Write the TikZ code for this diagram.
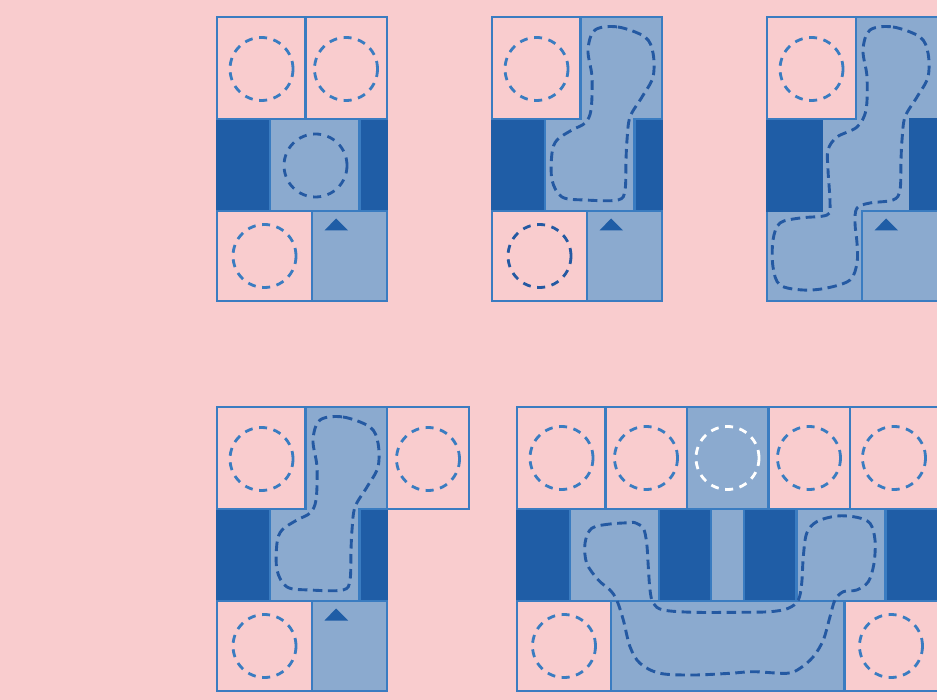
\documentclass[tikz,border=0pt]{standalone}
\definecolor{bgpink}{HTML}{F9CCCE}
\definecolor{lightblue}{HTML}{8BAACF}
\definecolor{darkblue}{HTML}{1F5DA6}
\definecolor{edgeblue}{HTML}{3A7CC1}
\definecolor{ringdarkc}{HTML}{2459A2}
\begin{document}
\begin{tikzpicture}[x=1pt,y=-1pt,
  cellline/.style={draw=edgeblue, line width=2.6pt},
  pinkcell/.style={cellline, fill=bgpink},
  lightcell/.style={cellline, fill=lightblue},
  darkcell/.style={fill=darkblue, draw=darkblue, line width=2.6pt},
  ring/.style={draw=edgeblue, line width=2.8pt, dash pattern=on 8pt off 6.6pt},
  ringdark/.style={ring, draw=ringdarkc},
  ringwhite/.style={ring, draw=white},
  blob/.style={draw=ringdarkc, line width=2.9pt, dash pattern=on 9.5pt off 5.5pt},
  tri/.style={fill=darkblue}]
\useasboundingbox (0,0) rectangle (937,700);
\fill[bgpink] (0,0) rectangle (937,700);

% ---------- Panel 1 ----------
\fill[darkcell] (217,119) rectangle (270,211);
\fill[darkcell] (359.5,119) rectangle (387,211);
\draw[pinkcell] (217,17) rectangle (305.5,119);
\draw[pinkcell] (305.5,17) rectangle (387,119);
\draw[lightcell] (270,119) rectangle (359.5,211);
\draw[pinkcell] (217,211) rectangle (312,301);
\draw[lightcell] (312,211) rectangle (387,301);
\draw[ring] (261.5,69) circle (31.5);
\draw[ring] (346,69) circle (31.5);
\draw[ringdark] (315.5,165.5) circle (31.5);
\draw[ring] (264.5,256) circle (31.5);
\fill[tri] (336,218.5) -- (348,230.5) -- (324.5,230.5) -- cycle;

% ---------- Panel 2 ----------
\fill[darkcell] (492,119) rectangle (545,211);
\fill[darkcell] (634.5,119) rectangle (662,211);
\draw[lightcell] (580.5,17) -- (662,17) -- (662,119) -- (634.5,119) -- (634.5,211)
  -- (545,211) -- (545,119) -- (580.5,119) -- cycle;
\draw[pinkcell] (492,17) rectangle (580.5,119);
\draw[pinkcell] (492,211) rectangle (587,301);
\draw[lightcell] (587,211) rectangle (662,301);
\draw[ring] (536.5,69) circle (31.5);
\draw[ringdark] (539.5,256) circle (31.5);
\fill[tri] (611,218.5) -- (623,230.5) -- (599.5,230.5) -- cycle;
\draw[blob] plot[smooth cycle, tension=0.55] coordinates {
  (595,30) (618,27) (645,37) (653,53) (653,77) (642,97) (630,117) (627,140)
  (626,160) (625,190) (618,200) (585,200) (562,197) (552,180) (552,153)
  (557,140) (572,130) (585,123) (591,110) (592,77) (588,50)};

% ---------- Panel 3 ----------
\draw[lightcell] (767,17) rectangle (941,301);
\fill[darkcell] (767,119) rectangle (822,211);
\fill[darkcell] (910.5,119) rectangle (941,211);
\draw[pinkcell] (767,17) rectangle (856,119);
\draw[lightcell] (862,211) rectangle (941,301);
\draw[ring] (811.5,69) circle (31.5);
\fill[tri] (886,218.5) -- (898,230.5) -- (874.5,230.5) -- cycle;
\draw[blob] plot[smooth cycle, tension=0.55] coordinates {
  (870,30) (893,27) (920,37) (928,53) (928,77) (917,97) (905,117) (902,140)
  (901,160) (900,190) (893,200) (870,203) (857,208) (855,223) (857,243)
  (857,263) (850,280) (827,288) (803,290) (780,285) (773,267) (773,240)
  (780,223) (800,218) (827,215) (830,203) (828,170) (828,150) (837,137)
  (857,127) (866,110) (867,77) (863,50)};

% ---------- Panel 4 ----------
\fill[darkcell] (217,509) rectangle (270,601);
\fill[darkcell] (359.5,509) rectangle (387,601);
\draw[lightcell] (305.5,407) -- (387,407) -- (387,509) -- (359.5,509) -- (359.5,601)
  -- (270,601) -- (270,509) -- (305.5,509) -- cycle;
\draw[pinkcell] (217,407) rectangle (305.5,509);
\draw[pinkcell] (387,407) rectangle (469,509);
\draw[pinkcell] (217,601) rectangle (312,691);
\draw[lightcell] (312,601) rectangle (387,691);
\draw[ring] (261.5,459) circle (31.5);
\draw[ring] (428,459) circle (31.5);
\draw[ring] (264.5,646) circle (31.5);
\fill[tri] (336,608.5) -- (348,620.5) -- (324.5,620.5) -- cycle;
\begin{scope}[shift={(-275,390)}]
\draw[blob] plot[smooth cycle, tension=0.55] coordinates {
  (595,30) (618,27) (645,37) (653,53) (653,77) (642,97) (630,117) (627,140)
  (626,160) (625,190) (618,200) (585,200) (562,197) (552,180) (552,153)
  (557,140) (572,130) (585,123) (591,110) (592,77) (588,50)};
\end{scope}

% ---------- Panel 5 ----------
\fill[darkcell] (517,509) rectangle (570,601);
\fill[darkcell] (659,509) rectangle (711,601);
\fill[darkcell] (744,509) rectangle (796.5,601);
\fill[darkcell] (885.5,509) rectangle (941,601);
\draw[pinkcell] (517,407) rectangle (605.5,509);
\draw[pinkcell] (605.5,407) rectangle (687,509);
\draw[lightcell] (687,407) rectangle (768.5,509);
\draw[pinkcell] (768.5,407) rectangle (850,509);
\draw[pinkcell] (850,407) rectangle (941,509);
\draw[lightcell] (570,509) rectangle (659,601);
\draw[lightcell] (711,509) rectangle (744,601);
\draw[lightcell] (796.5,509) rectangle (885.5,601);
\draw[pinkcell] (517,601) rectangle (611,691);
\draw[lightcell] (611,601) rectangle (844.5,691);
\draw[pinkcell] (844.5,601) rectangle (941,691);
\draw[ring] (561.5,458) circle (31.5);
\draw[ring] (646,458) circle (31.5);
\draw[ringwhite] (727.5,458) circle (31.5);
\draw[ring] (809,458) circle (31.5);
\draw[ring] (894,458) circle (31.5);
\draw[ring] (564,646) circle (31.5);
\draw[ring] (891,646) circle (31.5);
\draw[blob] plot[smooth cycle, tension=0.55] coordinates {
  (630,522.7) (610,524) (591.7,528.3) (585,543.3) (586.7,563.3) (598.3,580)
  (610,590) (616.7,600) (623.3,620) (630,646.7) (640,663.3) (660,673.3)
  (693.3,675) (730,673.3) (753.3,671.7) (786.7,673.3) (800,668.3)
  (813.3,656.7) (823.3,640) (830,616.7) (835,600) (843.3,591.7)
  (856.7,590) (868.3,581.7) (874,563.3) (875,540) (870,523.3) (856.7,517.3)
  (836.7,516) (816.7,521.7) (806.7,533.3) (803.3,556.7) (801.7,583.3)
  (798.3,600) (788.3,608.3) (770,611.7) (736.7,612.3) (693.3,612.3)
  (663.3,610) (653.3,603.3) (650,590) (648.3,566.7) (646.7,543.3)
  (643.3,528.3) (635,522.7)};
\end{tikzpicture}
\end{document}
